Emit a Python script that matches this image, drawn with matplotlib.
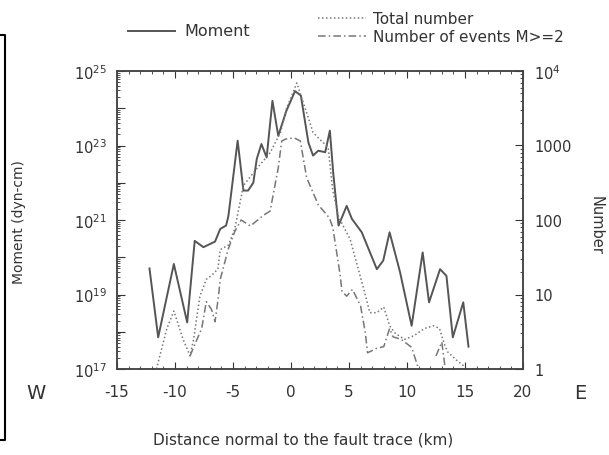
import numpy as np
import matplotlib
matplotlib.use("Agg")
import matplotlib.pyplot as plt
from matplotlib.ticker import FixedLocator, LogLocator, NullFormatter, MultipleLocator

plt.rcParams["font.family"] = ["DejaVu Sans"]
plt.rcParams["axes.unicode_minus"] = False

# seismic moment (solid), log10 of dyn-cm
moment_x = [-12.2, -11.45, -10.1, -8.95, -8.3, -7.55, -6.55, -6.1, -5.6, -5.4, -4.6, -4.1,
            -3.7, -3.25, -2.95, -2.55, -2.1, -1.6, -1.1, -0.4, 0.35, 0.85, 1.5, 1.9, 2.35,
            2.95, 3.35, 3.65, 4.1, 4.8, 5.25, 6.1, 7.4, 7.95, 8.5, 9.4, 10.4, 11.35, 11.9,
            12.85, 13.4, 13.95, 14.85, 15.3]
moment_log = [19.7, 17.85, 19.82, 18.25, 20.44, 20.27, 20.42, 20.76, 20.85, 21.1, 23.13, 21.79,
              21.79, 22.0, 22.64, 23.04, 22.68, 24.2, 23.26, 23.93, 24.46, 24.34, 23.08, 22.73, 22.86,
              22.82, 23.4, 22.23, 20.85, 21.38, 21.03, 20.67, 19.68, 19.91, 20.67, 19.6, 18.16, 20.13, 18.79,
              19.68, 19.5, 17.85, 18.79, 17.6]

# total number of events (dotted)
total_x = [-11.6, -10.7, -10.1, -9.3, -8.7, -8.4, -7.85, -7.3, -6.85, -6.3, -6.1, -5.4, -4.85,
           -4.1, -3.0, -1.8, -0.9, -0.4, 0.5, 1.05, 1.9, 2.5, 3.2, 3.6, 4.1, 5.1, 6.2, 6.8,
           7.4, 8.0, 8.5, 9.0, 9.8, 10.6, 11.5, 12.3, 12.8, 13.2, 13.5, 14.3, 15.0]
total_n = [1.0, 3.5, 6, 2.5, 1.5, 2.5, 9.5, 16, 18, 22, 40, 46, 76,
           290, 480, 800, 1500, 3100, 6900, 3800, 1500, 1200, 950, 250, 110, 55, 13, 5.7,
           5.7, 6.8, 3.8, 3.0, 2.5, 2.8, 3.5, 3.8, 3.5, 2.2, 1.7, 1.3, 1.07]

# number of events with M>=2 (dash-dot), nan = no events
big_x = [-8.7, -8.4, -7.7, -7.3, -6.85, -6.55, -6.25, -6.1, -5.4, -4.85, -4.3, -3.5, -2.4,
         -1.8, -1.1, -0.8, -0.4, 0.3, 0.8, 1.35, 2.35, 3.3, 3.6, 4.2, 4.4, 4.8, 5.3, 6.0,
         6.4, 6.6, 7.4, 8.0, 8.5, 8.8, 9.5, 10.4, 11.0, 12.0, 12.5, 13.0, 13.3]
big_n = [1.5, 1.95, 3.5, 8, 6.3, 4.3, 9.5, 16, 41, 70, 100, 83, 115,
         132, 500, 1150, 1230, 1260, 1150, 370, 160, 107, 80, 20, 11, 9.5, 11.7, 7,
         3.1, 1.65, 1.9, 2.0, 3.5, 2.7, 2.5, 1.95, 1.0, np.nan, 1.5, 2.3, 1.0]

xticks = [-15, -10, -5, 0, 5, 10, 15, 20]
ink = "#333333"

fig = plt.figure(figsize=(6.09, 4.56), dpi=100)
ax = fig.add_axes([117 / 609, 1 - 370 / 456, 406 / 609, 298 / 456])
ax2 = ax.twinx()

ax.plot(moment_x, 10 ** np.array(moment_log), color="#555555", lw=1.4, ls="-")
ax2.plot(total_x, total_n, color="#777777", lw=1.1, ls=(0, (1, 1.6)))
ax2.plot(big_x, big_n, color="#777777", lw=1.1, ls=(0, (5, 2, 1, 2)))

ax.set_xlim(-15, 20)
ax.set_yscale("log")
ax.set_ylim(1e17, 1e25)
ax2.set_yscale("log")
ax2.set_ylim(1, 1e4)

ax.set_xticks(xticks)
ax.set_xticklabels([str(t) for t in xticks])
ax.xaxis.set_minor_locator(MultipleLocator(1))
ax.tick_params(axis="x", which="both", top=True, direction="in", pad=11, labelsize=11, colors=ink)
ax.tick_params(axis="x", which="major", length=5)
ax.tick_params(axis="x", which="minor", length=2.5)

ax.yaxis.set_major_locator(FixedLocator([10.0 ** e for e in range(17, 26)]))
ax.set_yticklabels(["$10^{%d}$" % e if e % 2 == 1 else "" for e in range(17, 26)])
ax.yaxis.set_minor_locator(LogLocator(base=10, subs=np.arange(2, 10)))
ax.yaxis.set_minor_formatter(NullFormatter())
ax.tick_params(axis="y", which="both", direction="in", labelsize=10.5, colors=ink, pad=7)
ax.tick_params(axis="y", which="major", length=6)
ax.tick_params(axis="y", which="minor", length=2.5)

ax2.set_yticks([1, 10, 100, 1000, 1e4])
ax2.set_yticklabels(["1", "10", "100", "1000", "$10^{4}$"])
ax2.yaxis.set_minor_locator(LogLocator(base=10, subs=np.arange(2, 10)))
ax2.yaxis.set_minor_formatter(NullFormatter())
ax2.tick_params(axis="y", which="both", direction="in", labelsize=10.5, colors=ink, pad=8)
ax2.tick_params(axis="y", which="major", length=6)
ax2.tick_params(axis="y", which="minor", length=2.5)

for a in (ax, ax2):
    for s in a.spines.values():
        s.set_color("#444444")
        s.set_linewidth(1.1)

fig.text(19 / 609, 1 - 222 / 456, "Moment (dyn-cm)", rotation=90, ha="center", va="center",
         fontsize=10, color=ink)
fig.text(596 / 609, 1 - 225 / 456, "Number", rotation=-90, ha="center", va="center",
         fontsize=10.5, color=ink)
fig.text(36 / 609, 1 - 394 / 456, "W", ha="center", va="center", fontsize=14, color=ink)
fig.text(580 / 609, 1 - 394 / 456, "E", ha="center", va="center", fontsize=14, color=ink)
fig.text(303 / 609, 1 - 440 / 456, "Distance normal to the fault trace (km)", ha="center",
         va="center", fontsize=11, color=ink)

# legend drawn as figure lines, gnuplot style
fig.add_artist(plt.Line2D([128 / 609, 175 / 609], [1 - 32 / 456] * 2, color="#555555", lw=1.4))
fig.text(184 / 609, 1 - 32 / 456, "Moment", ha="left", va="center", fontsize=11.5, color=ink)
fig.add_artist(plt.Line2D([318 / 609, 366 / 609], [1 - 19 / 456] * 2, color="#777777", lw=1.1,
                          ls=(0, (1, 1.6))))
fig.text(373 / 609, 1 - 19 / 456, "Total number", ha="left", va="center", fontsize=11, color=ink)
fig.add_artist(plt.Line2D([318 / 609, 366 / 609], [1 - 37 / 456] * 2, color="#777777", lw=1.1,
                          ls=(0, (5, 2, 1, 2))))
fig.text(373 / 609, 1 - 37 / 456, "Number of events M>=2", ha="left", va="center", fontsize=11,
         color=ink)

# piece of the surrounding frame at the left edge
fig.add_artist(plt.Line2D([0, 5 / 609, 5 / 609, 0], [1 - 36 / 456, 1 - 36 / 456, 1 - 441 / 456, 1 - 441 / 456],
                          color="black", lw=1.5))

fig.savefig("out.png", dpi=100)
